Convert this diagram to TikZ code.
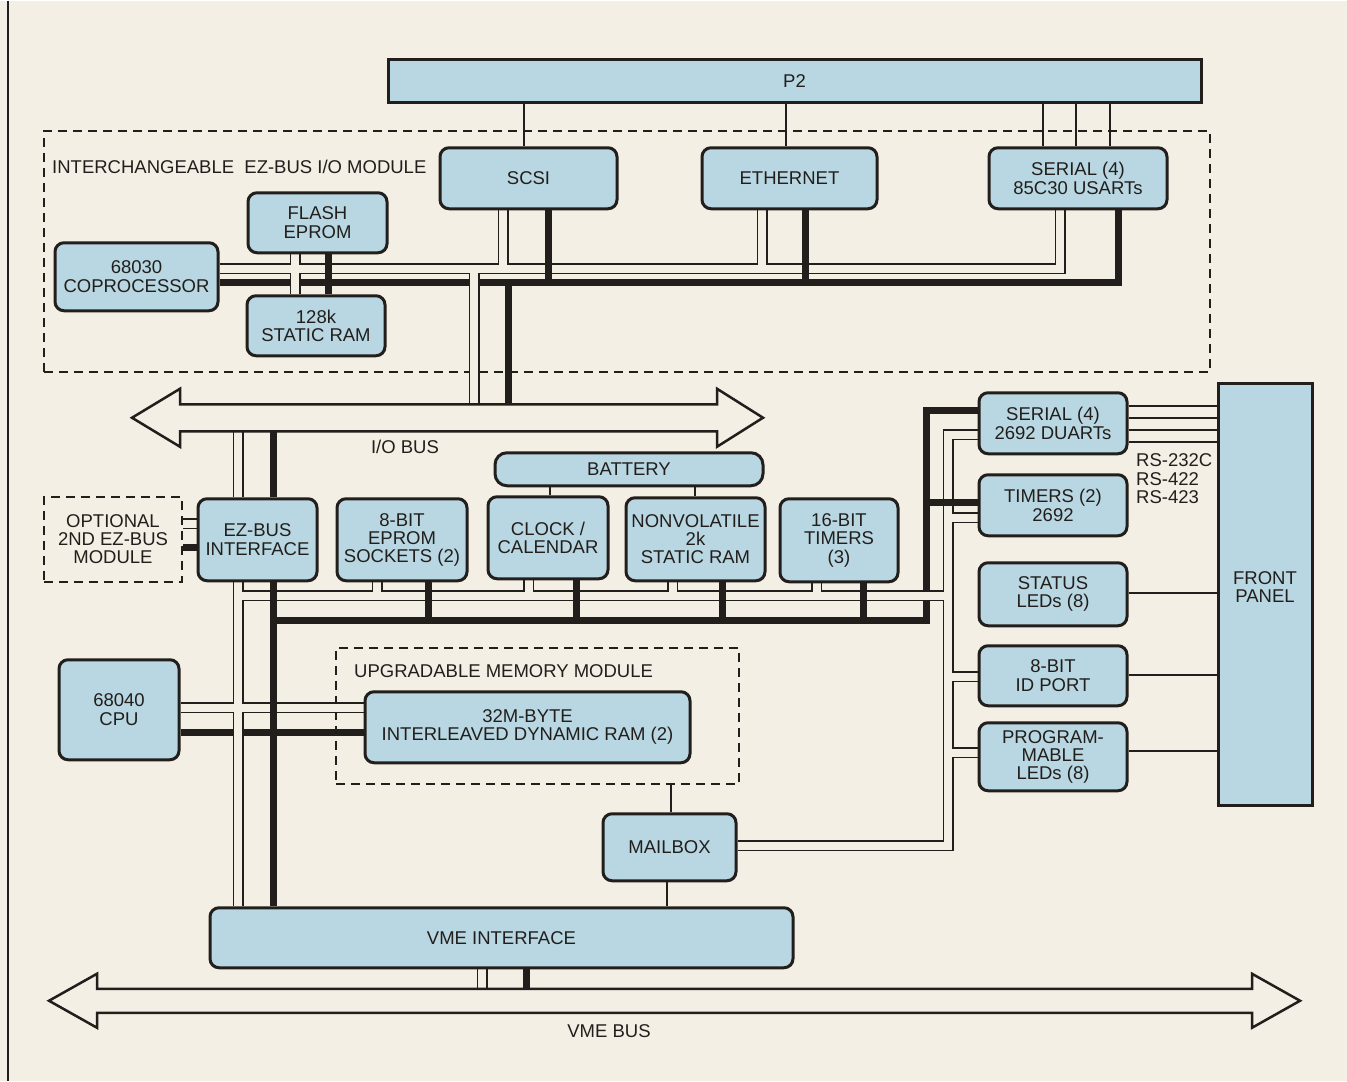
\documentclass[tikz,border=0pt]{standalone}
\usepackage{fontspec}
\setmainfont{Liberation Sans}
\pgfdeclarelayer{mods}
\pgfdeclarelayer{bus}
\pgfdeclarelayer{arr}
\pgfsetlayers{mods,bus,arr,main}
\definecolor{bgc}{HTML}{F3EFE5}
\definecolor{boxc}{HTML}{B8D7E2}
\definecolor{ink}{HTML}{221E1B}
\newcommand\lab{\fontsize{18.5}{18.3}\selectfont}
\newcommand\hollowall[1]{%
 \draw[#1] (copro.east |- 0,268) -- (1060,268) -- (ser85.south -| 1060,0);
 \draw[#1] (scsi.south -| 503,0) -- (503,268);
 \draw[#1] (eth.south -| 762,0) -- (762,268);
 \draw[#1] (flash.south -| 295,0) -- (sram.north -| 295,0);
 \draw[#1] (474,268) -- (474,410);
 \draw[#1] (238,424) -- (ezbus.north -| 238,0);
 \draw[#1] (opt.east |- 0,523) -- (ezbus.west |- 0,523);
 \draw[#1] (ezbus.south -| 238,0) -- (vme.north -| 238,0);
 \draw[#1] (238,595) -- (948,595);
 \draw[#1] (eprom.south -| 377,0) -- (377,595);
 \draw[#1] (clock.south -| 528.5,0) -- (528.5,595);
 \draw[#1] (nonvol.south -| 672.5,0) -- (672.5,595);
 \draw[#1] (tim16.south -| 816.5,0) -- (816.5,595);
 \draw[#1] (duart.west |- 0,434) -- (948,434) -- (948,845) -- (mailbox.east |- 0,845);
 \draw[#1] (948,517) -- (tim2.west |- 0,517);
 \draw[#1] (948,676) -- (idport.west |- 0,676);
 \draw[#1] (948,752) -- (prog.west |- 0,752);
 \draw[#1] (cpu.east |- 0,707) -- (mem.west |- 0,707);
 \draw[#1] (vme.south -| 482,0) -- (482,995);
}
\begin{document}
\begin{tikzpicture}[x=1pt,y=-1pt,
  blk/.style={draw=ink, fill=boxc, line width=3pt, rounded corners=9pt, align=center, font=\lab, text=ink, inner sep=0pt},
  sqblk/.style={draw=ink, fill=boxc, line width=3pt, align=center, font=\lab, text=ink, inner sep=0pt},
  dmod/.style={draw=ink, line width=2pt, dash pattern=on 9pt off 6pt, inner sep=0pt},
  sz/.style 2 args={minimum width=#1pt, minimum height=#2pt},
  tbus/.style={draw=ink, line width=7pt},
  hout/.style={draw=ink, line width=11pt},
  hin/.style={draw=bgc, line width=8pt},
  wire/.style={draw=ink, line width=2pt},
  bigarrow/.style={draw=ink, fill=bgc, line width=2.5pt, line join=miter},
  lbl/.style={font=\lab, text=ink, inner sep=0pt}
]
\begin{pgfonlayer}{mods}
\fill[bgc] (0,0) rectangle (1347,1080);
\draw[ink, line width=1.5pt] (8,0) -- (8,1080);
\node[dmod, sz={1166}{241}] (iomod) at (627,250.5) {};
\node[dmod, sz={403}{136}] (upg) at (537.5,715) {};
\node[dmod, sz={138}{85}, font=\lab, text=ink, align=center] (opt) at (113,538.5) {OPTIONAL\\2ND EZ-BUS\\MODULE};
\end{pgfonlayer}
\useasboundingbox (0,0) rectangle (1347,1080);

% labels
\node[lbl, anchor=west] (iolabel) at (52,166) {INTERCHANGEABLE\ \ EZ-BUS I/O MODULE};
\node[lbl, anchor=west] (upglabel) at (354,670) {UPGRADABLE MEMORY MODULE};
\node[lbl] (iobuslabel) at (405,446) {I/O BUS};
\node[lbl] (vmebuslabel) at (609,1030) {VME BUS};
\node[lbl, anchor=north west, align=left] (rs) at (1136,453) {RS-232C\\RS-422\\RS-423};

% blocks
\node[sqblk, sz={813}{43}] (p2) at (794.5,80.5) {P2};
\node[blk, sz={177}{61}] (scsi) at (528.5,177.5) {SCSI};
\node[blk, sz={175}{61}] (eth) at (789.5,177.5) {ETHERNET};
\node[blk, sz={178}{61}] (ser85) at (1078,177.5) {SERIAL (4)\\85C30 USARTs};
\node[blk, sz={139}{60}] (flash) at (317.5,222) {FLASH\\EPROM};
\node[blk, sz={163}{68}] (copro) at (136.5,276) {68030\\COPROCESSOR};
\node[blk, sz={138}{60}] (sram) at (316,325) {128k\\STATIC RAM};
\node[blk, sz={268}{33}, rounded corners=12pt] (battery) at (629,468.5) {BATTERY};
\node[blk, sz={120}{82}] (clock) at (548,537) {CLOCK /\\CALENDAR};
\node[blk, sz={139}{83}] (nonvol) at (695.5,538.5) {NONVOLATILE\\2k\\STATIC RAM};
\node[blk, sz={118}{83}] (tim16) at (839,539.5) {16-BIT\\TIMERS\\(3)};
\node[blk, sz={119}{82}] (ezbus) at (257.5,539) {EZ-BUS\\INTERFACE};
\node[blk, sz={130}{82}] (eprom) at (402,539) {8-BIT\\EPROM\\SOCKETS (2)};
\node[blk, sz={148}{61}] (duart) at (1053,422.5) {SERIAL (4)\\2692 DUARTs};
\node[blk, sz={148}{61}] (tim2) at (1053,504.5) {TIMERS (2)\\2692};
\node[blk, sz={148}{63}] (status) at (1053,593.5) {STATUS\\LEDs (8)};
\node[blk, sz={148}{60}] (idport) at (1053,675) {8-BIT\\ID PORT};
\node[blk, sz={148}{68}] (prog) at (1053,756) {PROGRAM-\\MABLE\\LEDs (8)};
\node[sqblk, sz={94}{422}] (front) at (1265,594) {};
\node[lbl, align=center] (fptext) at (1265,586) {FRONT\\PANEL};
\node[blk, sz={120}{100}] (cpu) at (119,709) {68040\\CPU};
\node[blk, sz={325}{71}] (mem) at (527.5,726.5) {32M-BYTE\\INTERLEAVED DYNAMIC RAM (2)};
\node[blk, sz={133}{67}] (mailbox) at (669.5,846.5) {MAILBOX};
\node[blk, sz={583}{60}] (vme) at (501.5,937) {VME INTERFACE};

% big bus arrows
\begin{pgfonlayer}{arr}
\draw[bigarrow] (132,417) -- (180,388) -- (180,403.5) -- (717,403.5) -- (717,388) -- (763,417) -- (717,446) -- (717,430.5) -- (180,430.5) -- (180,446) -- cycle;
\draw[bigarrow] (49,1000) -- (97,973) -- (97,988) -- (1252,988) -- (1252,973) -- (1300,1000) -- (1252,1027) -- (1252,1012) -- (97,1012) -- (97,1027) -- cycle;
\end{pgfonlayer}

\begin{pgfonlayer}{bus}
% thick data lines
\draw[tbus] (copro.east |- 0,282) -- (1118,282) -- (ser85.south -| 1118,0);
\draw[tbus] (scsi.south -| 548,0) -- (548,282);
\draw[tbus] (eth.south -| 805,0) -- (805,282);
\draw[tbus] (flash.south -| 328,0) -- (sram.north -| 328,0);
\draw[tbus] (508,282) -- (508,410);
\draw[tbus] (273,424) -- (ezbus.north -| 273,0);
\draw[tbus] (opt.east |- 0,547) -- (ezbus.west |- 0,547);
\draw[tbus] (ezbus.south -| 273,0) -- (vme.north -| 273,0);
\draw[tbus] (273,620) -- (926,620) -- (926,410) -- (duart.west |- 0,410);
\draw[tbus] (926,502) -- (tim2.west |- 0,502);
\draw[tbus] (eprom.south -| 428,0) -- (428,620);
\draw[tbus] (clock.south -| 576,0) -- (576,620);
\draw[tbus] (nonvol.south -| 722,0) -- (722,620);
\draw[tbus] (tim16.south -| 863,0) -- (863,620);
\draw[tbus] (cpu.east |- 0,732) -- (mem.west |- 0,732);
\draw[tbus] (vme.south -| 526,0) -- (526,995);
% hollow address lines
\hollowall{hout}
\hollowall{hin}
% crossings where the data line lies on top
\draw[tbus] (273,698) -- (273,716);
\draw[tbus] (273,587) -- (273,603);
\draw[tbus] (328,260) -- (328,276);
\draw[tbus] (548,260) -- (548,276);
\draw[tbus] (805,260) -- (805,276);
\draw[tbus] (428,587) -- (428,603);
\draw[tbus] (576,587) -- (576,603);
\draw[tbus] (722,587) -- (722,603);
\draw[tbus] (863,587) -- (863,603);
\draw[tbus] (938,502) -- (958,502);
% single wires
\draw[wire] (p2.south -| 524,0) -- (scsi.north -| 524,0);
\draw[wire] (p2.south -| 786,0) -- (eth.north -| 786,0);
\foreach \xx in {1043,1076,1110} \draw[wire] (p2.south -| \xx,0) -- (ser85.north -| \xx,0);
\draw[wire] (battery.south -| 550,0) -- (clock.north -| 550,0);
\draw[wire] (battery.south -| 695,0) -- (nonvol.north -| 695,0);
\foreach \yy in {405,417,429,441} \draw[wire] (duart.east |- 0,\yy) -- (front.west |- 0,\yy);
\draw[wire] (status.east |- 0,592) -- (front.west |- 0,592);
\draw[wire] (idport.east |- 0,674) -- (front.west |- 0,674);
\draw[wire] (prog.east |- 0,750) -- (front.west |- 0,750);
\draw[wire] (upg.south -| 671,0) -- (mailbox.north -| 671,0);
\draw[wire] (mailbox.south -| 667,0) -- (vme.north -| 667,0);
\end{pgfonlayer}
\end{tikzpicture}
\end{document}
